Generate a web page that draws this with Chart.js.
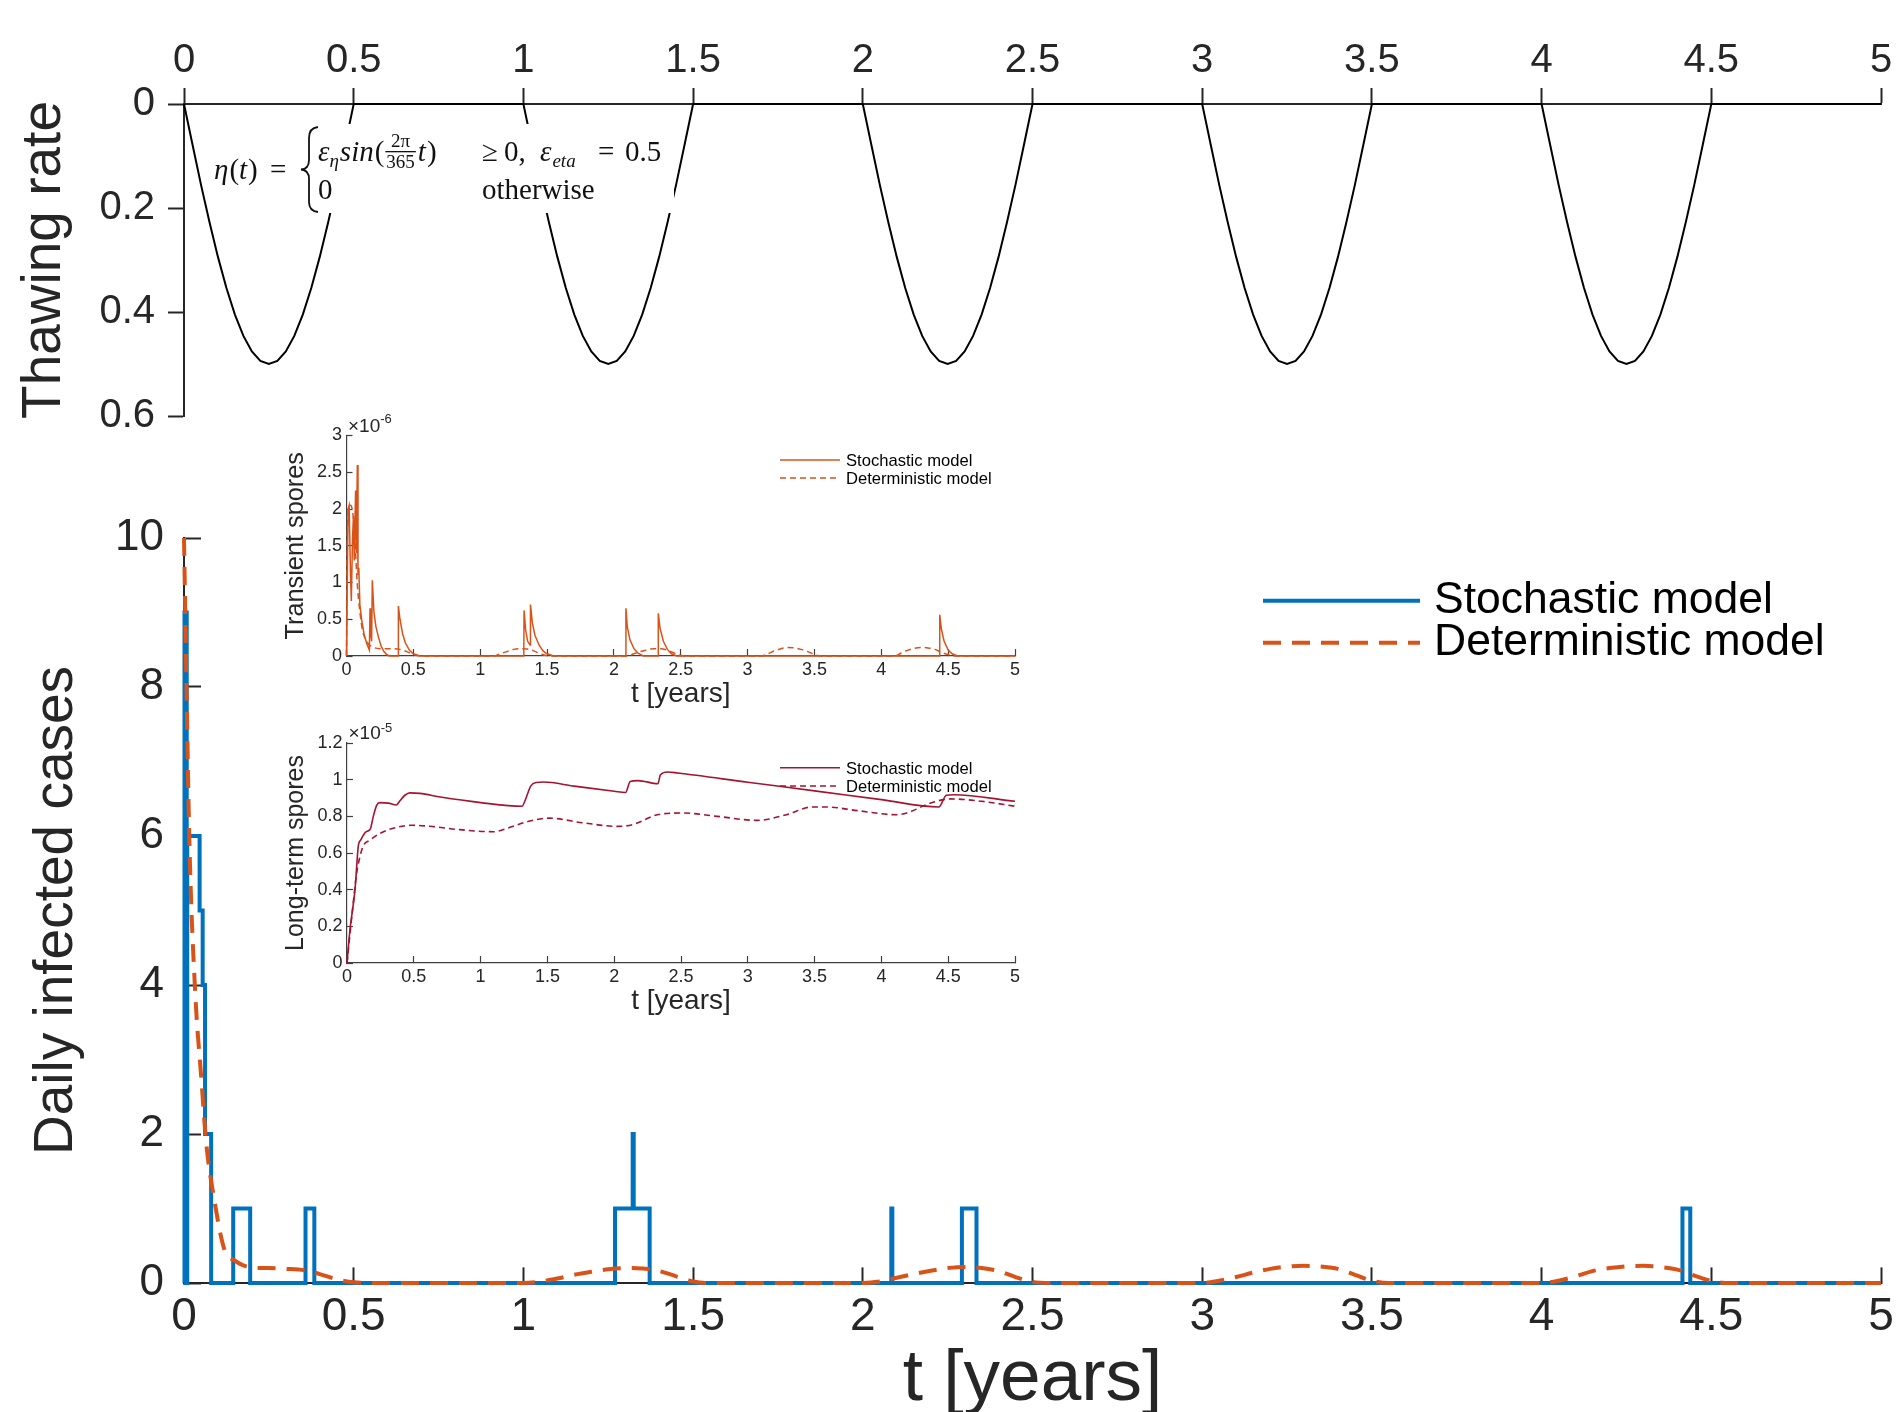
<!DOCTYPE html>
<html><head><meta charset="utf-8">
<script src="https://cdn.jsdelivr.net/npm/chart.js@4.4.1/dist/chart.umd.min.js"></script>
<style>
html,body{margin:0;padding:0;background:#fff;}
#wrap{position:relative;width:1903px;height:1412px;overflow:hidden;background:#fff;}
canvas{position:absolute;}
</style></head><body>
<div id="wrap">
<canvas id="cMain" width="1903" height="972" style="left:0;top:440px"></canvas>
<canvas id="cTop" width="1903" height="440" style="left:0;top:0"></canvas>
<canvas id="cIn1" width="760" height="320" style="left:280px;top:395px"></canvas>
<canvas id="cIn2" width="760" height="320" style="left:280px;top:700px"></canvas>
</div>
<script>
// ---------- tick values / labels ----------
const xTickVals = [0,0.5,1,1.5,2,2.5,3,3.5,4,4.5,5];
const xTickLabels = ['0','0.5','1','1.5','2','2.5','3','3.5','4','4.5','5'];
const thawTickVals = [0,0.2,0.4,0.6];
const thawTickLabels = ['0','0.2','0.4','0.6'];
const casesTickVals = [0,2,4,6,8,10];
const casesTickLabels = ['0','2','4','6','8','10'];
const transTickVals = [0,0.5,1,1.5,2,2.5,3];
const transTickLabels = ['0','0.5','1','1.5','2','2.5','3'];
const longTickVals = [0,0.2,0.4,0.6,0.8,1,1.2];
const longTickLabels = ['0','0.2','0.4','0.6','0.8','1','1.2'];

// ---------- thawing rate (top panel) ----------
const thawT = [
0,0.025,0.05,0.075,0.1,0.125,0.15,0.175,0.2,0.225,0.25,0.275,0.3,0.325,0.35,0.375,0.4,0.425,0.45,0.475,0.5,
1,1.025,1.05,1.075,1.1,1.125,1.15,1.175,1.2,1.225,1.25,1.275,1.3,1.325,1.35,1.375,1.4,1.425,1.45,1.475,1.5,
2,2.025,2.05,2.075,2.1,2.125,2.15,2.175,2.2,2.225,2.25,2.275,2.3,2.325,2.35,2.375,2.4,2.425,2.45,2.475,2.5,
3,3.025,3.05,3.075,3.1,3.125,3.15,3.175,3.2,3.225,3.25,3.275,3.3,3.325,3.35,3.375,3.4,3.425,3.45,3.475,3.5,
4,4.025,4.05,4.075,4.1,4.125,4.15,4.175,4.2,4.225,4.25,4.275,4.3,4.325,4.35,4.375,4.4,4.425,4.45,4.475,4.5,
5];
const thawRate = [
0,0.078,0.155,0.227,0.294,0.354,0.405,0.446,0.476,0.494,0.5,0.494,0.476,0.446,0.405,0.354,0.294,0.227,0.155,0.078,0,
0,0.078,0.155,0.227,0.294,0.354,0.405,0.446,0.476,0.494,0.5,0.494,0.476,0.446,0.405,0.354,0.294,0.227,0.155,0.078,0,
0,0.078,0.155,0.227,0.294,0.354,0.405,0.446,0.476,0.494,0.5,0.494,0.476,0.446,0.405,0.354,0.294,0.227,0.155,0.078,0,
0,0.078,0.155,0.227,0.294,0.354,0.405,0.446,0.476,0.494,0.5,0.494,0.476,0.446,0.405,0.354,0.294,0.227,0.155,0.078,0,
0,0.078,0.155,0.227,0.294,0.354,0.405,0.446,0.476,0.494,0.5,0.494,0.476,0.446,0.405,0.354,0.294,0.227,0.155,0.078,0,
0];

// ---------- daily infected cases (main panel) ----------
const stochT = [0,0.0015,0.008,0.0095,0.046,0.055,0.062,0.080,0.145,0.195,0.358,0.384,1.270,1.322,1.325,1.372,2.084,2.087,2.292,2.335,4.415,4.438,5];
const stochCases = [0,9,0,6,5,4,2,0,1,0,1,0,1,2,1,0,1,0,1,0,1,0,0];
const detT = [0,0.0074,0.016,0.033,0.051,0.065,0.088,0.119,0.15,0.173,0.213,0.25,0.3,0.355,0.4,0.45,0.5,0.55,
1.0,1.05,1.1,1.15,1.2,1.25,1.3,1.35,1.4,1.45,1.5,1.55,
2.0,2.05,2.1,2.15,2.2,2.25,2.3,2.35,2.4,2.45,2.5,2.55,
3.0,3.05,3.1,3.15,3.2,3.25,3.3,3.35,3.4,3.45,3.5,3.55,
4.0,4.05,4.1,4.15,4.2,4.25,4.3,4.35,4.4,4.45,4.5,4.55,5];
const detCases = [10,8.0,5.9,3.9,2.75,1.9,1.15,0.45,0.3,0.24,0.2,0.2,0.19,0.17,0.12,0.05,0.01,0,
0,0.02,0.06,0.11,0.15,0.185,0.2,0.195,0.16,0.09,0.02,0,
0,0.02,0.07,0.12,0.165,0.2,0.215,0.2,0.16,0.08,0.015,0,
0,0.03,0.08,0.14,0.19,0.22,0.23,0.22,0.19,0.11,0.03,0,
0,0.03,0.09,0.16,0.2,0.225,0.23,0.215,0.18,0.1,0.03,0,0];

// ---------- transient spores (inset 1, x1e-6) ----------
const transStochT = [0,0.012,0.02,0.03,0.036,0.045,0.052,0.058,0.068,0.074,0.081,0.086,0.092,0.1,0.113,0.131,0.151,0.171,0.176,0.182,0.188,0.193,0.205,0.22,0.24,0.26,0.28,0.3,0.32,
0.386,0.388,0.4,0.42,0.44,0.47,0.5,0.55,
1.326,1.328,1.34,1.355,1.373,1.376,1.39,1.41,1.44,1.47,1.5,1.55,
2.088,2.09,2.1,2.12,2.15,2.18,2.22,
2.33,2.332,2.345,2.37,2.4,2.43,2.47,
4.435,4.437,4.45,4.47,4.5,4.53,4.57,5];
const transStoch = [0,2.0,2.05,1.1,0.75,1.6,1.9,1.3,2.25,1.4,2.6,1.1,1.2,0.7,0.5,0.3,0.17,0.08,0.65,0.3,0.2,1.03,0.6,0.4,0.25,0.13,0.06,0.02,0,
0,0.68,0.5,0.3,0.18,0.08,0.03,0,
0,0.62,0.35,0.2,0.15,0.7,0.45,0.28,0.15,0.07,0.03,0,
0,0.65,0.4,0.22,0.1,0.04,0,
0,0.58,0.38,0.2,0.09,0.03,0,
0,0.56,0.36,0.2,0.08,0.03,0,0];
const transDetT = [0,0.005,0.015,0.03,0.05,0.065,0.08,0.1,0.12,0.15,0.2,0.25,0.3,0.35,0.4,0.45,0.5,0.55,
1.1,1.15,1.2,1.25,1.3,1.35,1.4,1.45,1.5,1.55,
2.1,2.15,2.2,2.25,2.3,2.35,2.4,2.45,2.5,2.55,
3.1,3.15,3.2,3.25,3.3,3.35,3.4,3.45,3.5,3.55,
4.1,4.15,4.2,4.25,4.3,4.35,4.4,4.45,4.5,4.55,5];
const transDet = [0,1.5,2.0,2.05,1.9,1.5,1.0,0.6,0.35,0.2,0.12,0.1,0.1,0.1,0.09,0.06,0.02,0,
0,0.03,0.06,0.09,0.1,0.095,0.07,0.03,0.005,0,
0,0.03,0.06,0.085,0.1,0.1,0.08,0.04,0.01,0,
0,0.03,0.07,0.1,0.115,0.11,0.09,0.06,0.02,0,
0,0.04,0.08,0.105,0.115,0.11,0.09,0.05,0.02,0,0];

// ---------- long-term spores (inset 2, x1e-5) ----------
const longStochT = [0,0.022,0.06,0.085,0.102,0.135,0.167,0.177,0.197,0.222,0.247,0.31,0.37,0.396,0.433,0.471,0.546,0.7,1.0,1.31,1.335,1.375,1.415,1.47,1.7,2.0,2.085,2.12,2.178,2.327,2.346,2.401,2.476,3.0,3.5,4.0,4.43,4.486,4.542,5];
const longStoch = [0,0.18,0.4,0.64,0.67,0.71,0.725,0.735,0.8,0.86,0.875,0.872,0.862,0.885,0.915,0.928,0.925,0.905,0.875,0.855,0.89,0.965,0.985,0.987,0.965,0.937,0.93,0.99,0.995,0.978,1.027,1.042,1.036,0.986,0.939,0.891,0.851,0.915,0.918,0.882];
const longDetT = [0,0.047,0.072,0.097,0.122,0.172,0.247,0.346,0.483,0.645,0.82,1.1,1.2,1.36,1.51,1.77,2.03,2.14,2.33,2.51,2.77,3.07,3.29,3.48,3.59,3.82,4.11,4.19,4.37,4.52,4.75,5];
const longDet = [0,0.33,0.49,0.58,0.64,0.67,0.707,0.735,0.751,0.744,0.729,0.716,0.735,0.773,0.79,0.764,0.745,0.755,0.81,0.818,0.8,0.778,0.809,0.851,0.851,0.831,0.809,0.818,0.873,0.895,0.882,0.855];

// ---------- helpers ----------
const SANS = '"Liberation Sans", Arial, Helvetica, sans-serif';
const SERIF = '"Liberation Serif", "Times New Roman", serif';
const AX = '#262626';
Chart.defaults.font.family = SANS;
Chart.defaults.color = AX;

function pts(xs, ys){ return xs.map((x,i)=>({x:x, y:ys[i]})); }

function mkScale(o){
  const s = {
    type:'linear', position:o.position, min:o.min, max:o.max, reverse:!!o.reverse,
    afterBuildTicks: sc => { sc.ticks = o.vals.map(v=>({value:v})); },
    afterFit: sc => {
      if (o.width !== undefined) sc.width = o.width;
      if (o.height !== undefined) sc.height = o.height;
      sc.paddingLeft = 0; sc.paddingRight = 0; sc.paddingTop = 0; sc.paddingBottom = 0;
    },
    ticks:{ callback:(v,i)=>o.labels[i], font:{size:o.fontSize}, color:AX, padding:o.pad, autoSkip:false, maxRotation:0, minRotation:0 },
    grid:{ display:true, drawOnChartArea:false, drawTicks:true, tickLength:o.tl, tickWidth:o.lw, tickColor:o.axColor||AX, color:o.axColor||AX },
    border:{ display:true, color:o.axColor||AX, width:o.lw }
  };
  if (o.title) s.title = { display:true, text:o.title, color:AX, font:{size:o.titleSize, lineHeight:o.titleLH||1}, padding:o.titlePad };
  return s;
}

// legend drawn from dataset labels/styles
function legendPlugin(cfg){
  return { id:'lg', afterDraw(chart){
    const c = chart.ctx; c.save();
    cfg.order.forEach((di,k)=>{
      const ds = chart.data.datasets[di];
      const y = cfg.ys[k];
      c.strokeStyle = ds.borderColor; c.lineWidth = cfg.lw;
      c.setLineDash(cfg.dashes[k]); c.lineCap='butt';
      c.beginPath(); c.moveTo(cfg.x1,y); c.lineTo(cfg.x2,y); c.stroke();
      c.setLineDash([]);
      c.fillStyle = '#000'; c.font = cfg.font; c.textBaseline='alphabetic'; c.textAlign='left';
      c.fillText(ds.label, cfg.tx, y + cfg.dy);
    });
    c.restore();
  }};
}

function expPlugin(exp, base, supBase){
  return { id:'exp', afterDraw(chart){
    const c = chart.ctx, a = chart.chartArea; c.save();
    c.fillStyle = AX; c.textBaseline='alphabetic'; c.textAlign='left';
    c.font = '19px ' + SANS; c.fillText('\u00d710', a.left + 1.5, base);
    const w = c.measureText('\u00d710').width;
    c.font = '13px ' + SANS; c.fillText(exp, a.left + 1.5 + w, supBase);
    c.restore();
  }};
}

const eqPlugin = { id:'eq', afterDraw(chart){
  const c = chart.ctx; c.save();
  c.fillStyle = '#fff'; c.fillRect(210,124,464,89);
  c.fillStyle = '#111'; c.textBaseline='alphabetic'; c.textAlign='left';
  const it = s => 'italic ' + s + 'px ' + SERIF, up = s => s + 'px ' + SERIF;
  function put(txt, font, x, y){ c.font = font; c.fillText(txt, x, y); return x + c.measureText(txt).width; }
  let x = put('\u03b7', it(29), 214, 179);
  x = put('(', up(29), x + 1, 179);
  x = put('t', it(29), x, 179);
  x = put(')', up(29), x + 1, 179);
  put('=', up(29), 270, 179);
  c.strokeStyle = '#111'; c.lineWidth = 1.8;
  c.beginPath();
  c.moveTo(318,127); c.quadraticCurveTo(309,128,309,138); c.lineTo(309,160);
  c.quadraticCurveTo(309,169,301,169.5); c.quadraticCurveTo(309,170,309,179);
  c.lineTo(309,202); c.quadraticCurveTo(309,211,318,212); c.stroke();
  x = put('\u03b5', it(29), 318, 161);
  x = put('\u03b7', it(19), x, 167);
  x = put('sin', it(29), x + 1, 161);
  x = put('(', up(29), x + 1, 161);
  c.font = up(19);
  const wn = c.measureText('2\u03c0').width, wd = c.measureText('365').width;
  const fw = Math.max(wn, wd) + 4;
  c.fillText('2\u03c0', x + (fw - wn)/2, 147);
  c.fillText('365', x + (fw - wd)/2, 168);
  c.fillRect(x + 1, 151, fw - 2, 1.3);
  x += fw;
  x = put('t', it(29), x + 1, 161);
  put(')', up(29), x + 1, 161);
  put('\u2265', up(29), 482, 161);
  put('0,', up(29), 504, 161);
  x = put('\u03b5', it(29), 540, 161);
  put('eta', it(19), x + 1, 167);
  put('=', up(29), 598, 161);
  put('0.5', up(29), 625, 161);
  put('0', up(29), 318, 199);
  put('otherwise', up(29), 482, 199);
  c.restore();
}};

const base = { responsive:false, animation:false, devicePixelRatio:1, events:[],
  plugins:{ legend:{display:false}, tooltip:{enabled:false} } };

// ---------- top panel ----------
new Chart(document.getElementById('cTop'), {
  type:'line',
  data:{ datasets:[{ label:'Thawing rate', data:pts(thawT, thawRate), borderColor:'#000', borderWidth:2,
    pointRadius:0, tension:0, fill:false, clip:false }]},
  options:Object.assign({}, base, {
    layout:{ padding:{left:0, top:0, right:22, bottom:24} },
    scales:{
      x: mkScale({position:'top', min:0, max:5, vals:xTickVals, labels:xTickLabels, fontSize:40, pad:3.5, tl:16, lw:2, height:104}),
      y: mkScale({position:'left', min:0, max:0.6, reverse:true, vals:thawTickVals, labels:thawTickLabels, fontSize:40, pad:13, tl:16, lw:2, width:184,
                  title:'Thawing rate', titleSize:55, titlePad:{top:17, bottom:0}})
    }
  }),
  plugins:[eqPlugin]
});

// ---------- main panel ----------
new Chart(document.getElementById('cMain'), {
  type:'line',
  data:{ datasets:[
    { label:'Stochastic model', data:pts(stochT, stochCases), borderColor:'#0072BD', borderWidth:4, pointRadius:0,
      stepped:'before', fill:false, clip:false, order:1 },
    { label:'Deterministic model', data:pts(detT, detCases), borderColor:'#D95319', borderWidth:4, borderDash:[18,11],
      pointRadius:0, cubicInterpolationMode:'monotone', fill:false, clip:false, order:0 }
  ]},
  options:Object.assign({}, base, {
    layout:{ padding:{left:0, top:98, right:22, bottom:0} },
    scales:{
      x: mkScale({position:'bottom', min:0, max:5, vals:xTickVals, labels:xTickLabels, fontSize:46, pad:22, tl:-15.6, lw:2, height:129,
                  title:'t [years]', titleSize:73, titleLH:0.8, titlePad:{top:0, bottom:3}}),
      y: mkScale({position:'left', min:0, max:10, vals:casesTickVals, labels:casesTickLabels, fontSize:44, pad:37, tl:-17, lw:2, width:184,
                  title:'Daily infected cases', titleSize:55, titlePad:{top:29, bottom:0}})
    }
  }),
  plugins:[legendPlugin({order:[0,1], ys:[160.7,202.7], x1:1263, x2:1420, tx:1434, dy:12, lw:4, dashes:[[],[18,11]], font:'44.5px ' + SANS})]
});

// ---------- inset 1: transient spores ----------
new Chart(document.getElementById('cIn1'), {
  type:'line',
  data:{ datasets:[
    { label:'Stochastic model', data:pts(transStochT, transStoch), borderColor:'#D95319', borderWidth:1.5, pointRadius:0, tension:0, fill:false, clip:false },
    { label:'Deterministic model', data:pts(transDetT, transDet), borderColor:'#D95319', borderWidth:1.5, borderDash:[6,4], pointRadius:0,
      cubicInterpolationMode:'monotone', fill:false, clip:false }
  ]},
  options:Object.assign({}, base, {
    layout:{ padding:{left:0, top:40.5, right:25, bottom:0} },
    scales:{
      x: mkScale({position:'bottom', min:0, max:5, vals:xTickVals, labels:xTickLabels, fontSize:18, pad:10.2, tl:-7, lw:1.2, height:59, axColor:'#404040',
                  title:'t [years]', titleSize:28, titlePad:{top:0, bottom:7}}),
      y: mkScale({position:'left', min:0, max:3, vals:transTickVals, labels:transTickLabels, fontSize:18, pad:10.5, tl:-6, lw:1.2, width:66.5, axColor:'#404040',
                  title:'Transient spores', titleSize:25.3, titlePad:{top:3.6, bottom:0}})
    }
  }),
  plugins:[expPlugin('-6', 36.7, 28), legendPlugin({order:[0,1], ys:[65,83], x1:500, x2:560, tx:566, dy:6, lw:1.5, dashes:[[],[6,4]], font:'16.6px ' + SANS})]
});

// ---------- inset 2: long-term spores ----------
new Chart(document.getElementById('cIn2'), {
  type:'line',
  data:{ datasets:[
    { label:'Stochastic model', data:pts(longStochT, longStoch), borderColor:'#A2142F', borderWidth:1.6, pointRadius:0,
      cubicInterpolationMode:'monotone', fill:false, clip:false },
    { label:'Deterministic model', data:pts(longDetT, longDet), borderColor:'#A2142F', borderWidth:1.6, borderDash:[6,4], pointRadius:0,
      cubicInterpolationMode:'monotone', fill:false, clip:false }
  ]},
  options:Object.assign({}, base, {
    layout:{ padding:{left:0, top:43, right:25, bottom:0} },
    scales:{
      x: mkScale({position:'bottom', min:0, max:5, vals:xTickVals, labels:xTickLabels, fontSize:18, pad:10.2, tl:-7, lw:1.2, height:57, axColor:'#404040',
                  title:'t [years]', titleSize:28, titlePad:{top:0, bottom:5}}),
      y: mkScale({position:'left', min:0, max:1.2, vals:longTickVals, labels:longTickLabels, fontSize:18, pad:10.5, tl:-6, lw:1.2, width:67, axColor:'#404040',
                  title:'Long-term spores', titleSize:25, titlePad:{top:3.8, bottom:0}})
    }
  }),
  plugins:[expPlugin('-5', 39, 31.7), legendPlugin({order:[0,1], ys:[67.7,86], x1:500, x2:560, tx:566, dy:6, lw:1.5, dashes:[[],[6,4]], font:'16.6px ' + SANS})]
});
</script>
</body></html>
